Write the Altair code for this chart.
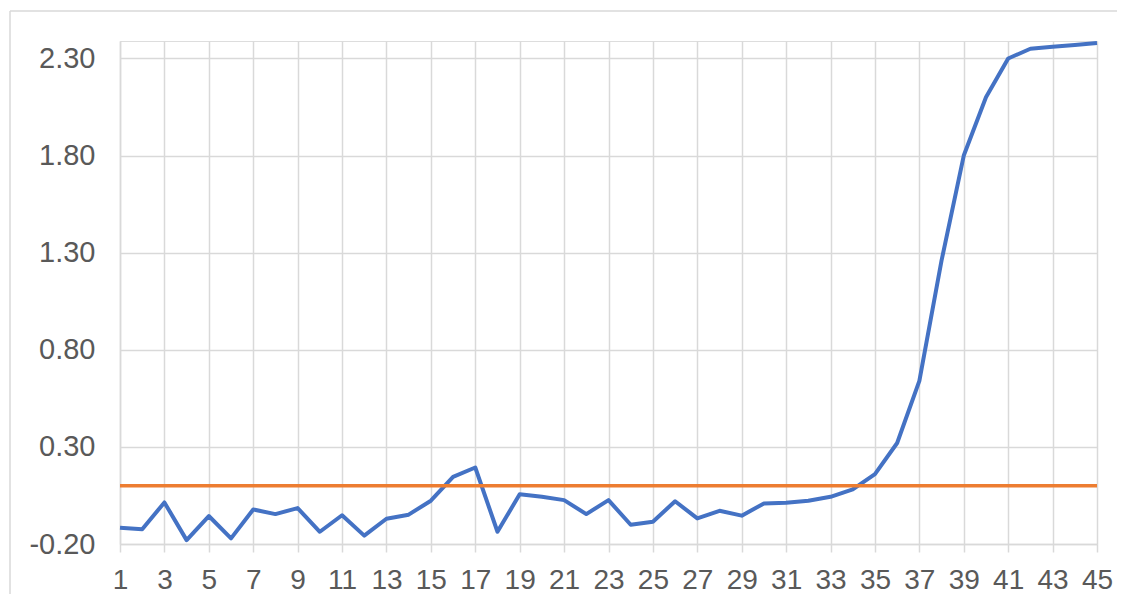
import altair as alt
import pandas as pd

# Data
x_vals = list(range(1, 46))
series_vals = [-0.116, -0.124, 0.014, -0.180, -0.056, -0.171, -0.022, -0.046, -0.015, -0.137,
               -0.052, -0.157, -0.070, -0.049, 0.023, 0.146, 0.194, -0.137, 0.056, 0.043,
               0.026, -0.046, 0.026, -0.101, -0.085, 0.020, -0.068, -0.029, -0.054, 0.009,
               0.012, 0.023, 0.043, 0.081, 0.160, 0.320, 0.640, 1.260, 1.800, 2.100,
               2.300, 2.350, 2.360, 2.370, 2.380]
threshold = 0.10
y_ticks = [-0.20, 0.30, 0.80, 1.30, 1.80, 2.30]

GRID = "#d9d9d9"
LABEL = "#595959"
FONT = "Liberation Sans"

df = pd.DataFrame({"x": x_vals, "y": series_vals})
thr = pd.DataFrame({"x": [x_vals[0]], "x2": [x_vals[-1]], "y": [threshold]})
one = pd.DataFrame({"a": [0]})

xscale = alt.Scale(domain=[1, 45], nice=False, zero=False)
yscale = alt.Scale(domain=[-0.2, 2.39], nice=False, zero=False)

xaxis = alt.Axis(
    values=x_vals, title=None, labelExpr="datum.value % 2 === 1 ? datum.label : ''",
    labelFontSize=28, labelColor=LABEL, labelFont=FONT, labelPadding=14,
    labelOverlap=False, labelFlush=False, labelBound=False,
    ticks=True, tickSize=8, tickColor=GRID, tickWidth=1.5,
    domain=True, domainColor=GRID, domainWidth=1.5,
    grid=True, gridColor=GRID, gridWidth=1.5,
    gridOpacity={"condition": {"test": "datum.value % 2 === 0", "value": 0}, "value": 1},
)
yaxis = alt.Axis(
    values=y_ticks, title=None,
    labelExpr="replace(format(datum.value, '.2f'), '\u2212', '-')",
    labelFontSize=29, labelColor=LABEL, labelFont=FONT, labelPadding=25,
    ticks=False, domain=True, domainColor=GRID, domainWidth=1.5,
    grid=True, gridColor=GRID, gridWidth=1.5,
)

line = alt.Chart(df).mark_line(color="#4472C4", strokeWidth=4, strokeJoin="round").encode(
    x=alt.X("x:Q", scale=xscale, axis=xaxis),
    y=alt.Y("y:Q", scale=yscale, axis=yaxis),
)

thr_line = alt.Chart(thr).mark_rule(color="#ED7D31", strokeWidth=3.5).encode(
    x="x:Q", x2="x2:Q", y="y:Q"
)

border_left = alt.Chart(one).mark_rule(color=GRID, strokeWidth=1.5).encode(
    x=alt.value(-110), y=alt.value(-30), y2=alt.value(700)
)
border_top = alt.Chart(one).mark_rule(color=GRID, strokeWidth=1.5).encode(
    x=alt.value(-110), x2=alt.value(1200), y=alt.value(-30)
)

chart = alt.layer(border_left, border_top, line, thr_line).properties(
    width=977, height=503,
    padding={"left": 112, "top": 33, "right": 20, "bottom": 50},
    autosize=alt.AutoSizeParams(type="none"),
).configure_view(strokeWidth=0).configure(background="white")

chart.save("out.html", embed_options={"renderer": "svg", "actions": False})
